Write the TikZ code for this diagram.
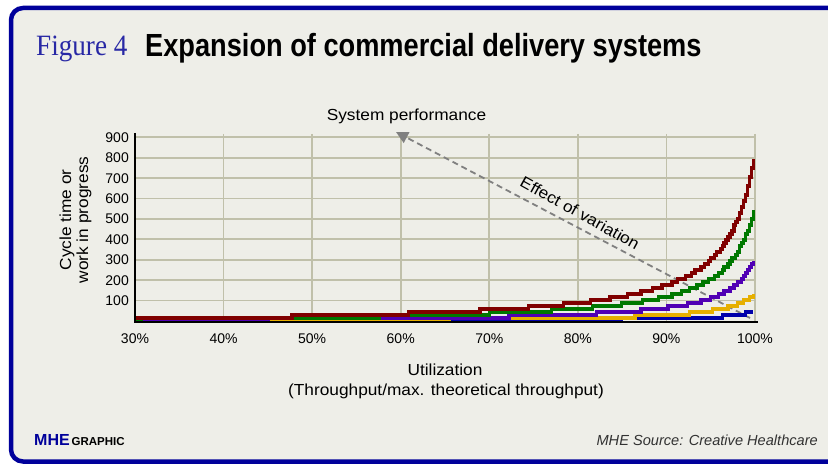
\documentclass[tikz,border=0pt]{standalone}
\usepackage{fontspec}
\setmainfont{Liberation Sans}
\newfontfamily\titlefont[FakeStretch=0.85]{Liberation Sans}
\newfontfamily\figfont[FakeStretch=0.92]{Liberation Serif}
\newfontfamily\labfont[FakeStretch=1.08]{Liberation Sans}
\newfontfamily\tickfont{Liberation Sans}
\usetikzlibrary{arrows.meta}

\definecolor{panelbg}{RGB}{238,238,232}
\definecolor{frameblue}{RGB}{0,0,155}
\definecolor{figblue}{RGB}{40,40,165}
\definecolor{gridc}{RGB}{192,192,170}
\definecolor{arrowgray}{RGB}{128,128,128}
\definecolor{cred}{RGB}{128,0,0}
\definecolor{cgreen}{RGB}{0,120,0}
\definecolor{cpurple}{RGB}{80,0,180}
\definecolor{cgold}{RGB}{230,175,0}
\definecolor{cblue}{RGB}{0,0,170}
\definecolor{srcgray}{RGB}{50,50,50}

\tikzset{
  gridline/.style={draw=gridc, line width=1.8},
  axisline/.style={draw=black, line width=2},
  ticklab/.style={font=\tickfont\fontsize{14}{15}\selectfont, inner sep=0},
  axislab/.style={font=\labfont\fontsize{16}{17}\selectfont, inner sep=0, align=center},
  curve/.style={line width=3.4},
  varrow/.style={draw=arrowgray, line width=1.8, dash pattern=on 6pt off 4pt,
    -{Triangle[length=12pt,width=12pt]}},
}

\begin{document}
\begin{tikzpicture}[x=1pt, y=-1pt]
\useasboundingbox (0,0) rectangle (828,465);
\fill[white] (0,0) rectangle (828,465);

% panel with blue frame
\begin{scope}
  \clip (0,0) rectangle (828,465);
  \draw[draw=frameblue, fill=panelbg, line width=4.5, rounded corners=12]
    (11,8) rectangle (845,461.5);
\end{scope}

% heading
\node[anchor=base west, inner sep=0, text=figblue,
  font=\figfont\fontsize{29.5}{30}\selectfont] (fig) at (36,55.5) {Figure 4};
\node[anchor=base west, inner sep=0,
  font=\titlefont\bfseries\fontsize{32}{34}\selectfont] (title) at (145,56.5)
  {Expansion of commercial delivery systems};

% grid
\foreach \k in {1,...,9}
  \draw[gridline] (135,{321-20.4*\k}) -- (755,{321-20.4*\k});
\foreach \k in {1,...,7}
  \draw[gridline] ({135+88.571*\k},134) -- ({135+88.571*\k},321);

% y tick labels
\foreach \v [count=\k] in {100,200,300,400,500,600,700,800,900}
  \node[ticklab, anchor=east] (y\v) at (129,{321-20.4*\k}) {\v};

% x tick labels
\foreach \p [count=\k from 0] in {30,40,50,60,70,80,90,100}
  \node[ticklab] (x\p) at ({135+88.571*\k},338.5) {\p\%};

% effect of variation
\coordinate (vfrom) at (750,318);
\coordinate (vto) at (396,132);
\draw[varrow] (vfrom) -- (vto);
\node[axislab, rotate=-29] (effect) at (580,213) {Effect of variation};

% curves: cycle time versus utilization, rho = 0.3 + 0.698*i/319
\foreach \s/\c in {0.062/cblue, 0.165/cgold, 0.37/cpurple, 0.68/cgreen, 1/cred}
  \draw[curve, draw=\c] plot[const plot, samples=320, domain=0:319]
    ({135+885.71*(0.698*\x/319)},
     {3*round((321-5.2224*\s*(0.3+0.698*\x/319)/(0.73-0.698*\x/319))/3)});

% axes
\draw[axisline] (135,133) -- (135,322) -- (758,322);

% labels
\node[axislab, anchor=base] (perf) at (406.5,121) {System performance};
\node[axislab, rotate=90] (ylab) at (75.5,220) {Cycle time or\\work in progress};
\node[axislab, anchor=base] (util) at (445,375) {Utilization};
\node[axislab, anchor=base] (thr) at (446,395) {(Throughput/max. theoretical throughput)};

% footer
\node[anchor=base west, inner sep=0, text=frameblue,
  font=\bfseries\fontsize{16}{17}\selectfont] (mhe) at (34,445) {MHE};
\node[anchor=base west, inner sep=0,
  font=\bfseries\fontsize{11.5}{12}\selectfont] (graphic) at ([xshift=1.5pt]mhe.base east) {GRAPHIC};
\node[anchor=base east, inner sep=0, text=srcgray,
  font=\itshape\fontsize{14.6}{15}\selectfont] (src) at (818,445) {MHE Source: Creative Healthcare};
\end{tikzpicture}
\end{document}
